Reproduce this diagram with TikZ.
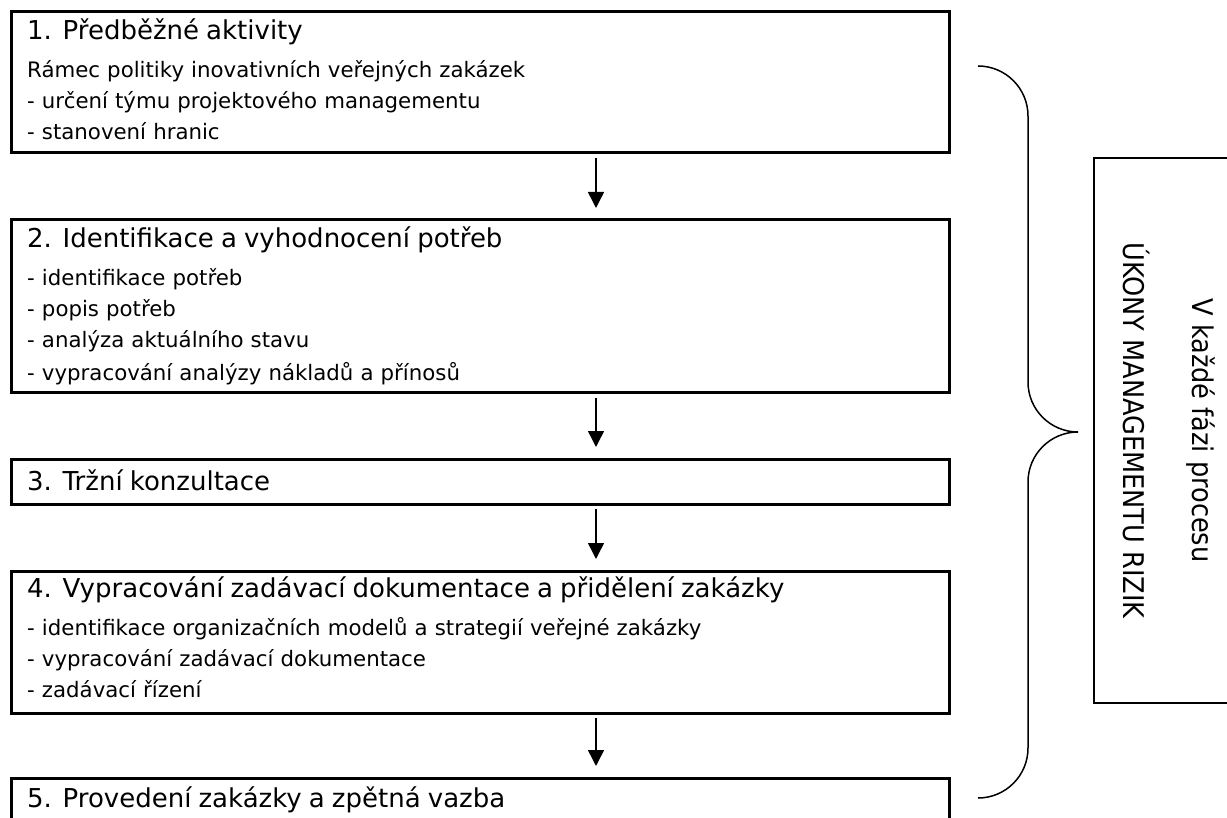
\documentclass[tikz,border=0pt]{standalone}
\usepackage{fontspec}
\setmainfont{DejaVu Sans}
\newfontfamily\sidefont{DejaVu Sans Condensed}
\usepackage{tikz}
\usetikzlibrary{arrows.meta,calc}

\newcommand{\phasetitle}[1]{{\fontsize{26}{30}\selectfont #1}}

\begin{document}
\begin{tikzpicture}[x=1pt,y=-1pt]
        % Define the styles for the phase boxes, their texts and the arrows
        \tikzstyle{phase}=[draw, line width=3pt, rectangle, anchor=north west, outer sep=0pt,
            minimum width=938pt, inner sep=0pt];
        \tikzstyle{phasetext}=[anchor=base west, inner sep=0pt, text width=900pt,
            align=left, font=\fontsize{21.3}{31}\selectfont];
        \tikzstyle{flow}=[line width=1.5pt, -{Triangle[width=16pt,length=16pt]},
            shorten <=5pt, shorten >=12pt];

        % Frame of the picture
        \clip (0,0) rectangle (1227,818);

        % Boxes of the phases
        \node[phase, minimum height=141pt] (faze1) at (11,12) {};
        \node[phase, minimum height=173pt] (faze2) at (11,220) {};
        \node[phase, minimum height=45pt] (faze3) at (11,459) {};
        \node[phase, minimum height=142pt] (faze4) at (11,571) {};
        \node[phase, minimum height=60pt] (faze5) at (11,778) {};

        % Texts of the phases
        \node[phasetext] (text1) at ($(faze1.north west)+(16,28)$)
            {\phasetitle{1. Předběžné aktivity}\\[7pt]
             Rámec politiky inovativních veřejných zakázek\\
             - určení týmu projektového managementu\\
             - stanovení hranic};
        \node[phasetext] (text2) at ($(faze2.north west)+(16,28)$)
            {\phasetitle{2. Identifikace a vyhodnocení potřeb}\\[7pt]
             - identifikace potřeb\\
             - popis potřeb\\
             - analýza aktuálního stavu\\[2pt]
             - vypracování analýzy nákladů a přínosů};
        \node[phasetext] (text3) at ($(faze3.north west)+(16,31)$)
            {\phasetitle{3. Tržní konzultace}};
        \node[phasetext] (text4) at ($(faze4.north west)+(16,26)$)
            {\phasetitle{4. Vypracování zadávací dokumentace a přidělení zakázky}\\[7pt]
             - identifikace organizačních modelů a strategií veřejné zakázky\\
             - vypracování zadávací dokumentace\\
             - zadávací řízení};
        \node[phasetext] (text5) at ($(faze5.north west)+(16,29)$)
            {\phasetitle{5. Provedení zakázky a zpětná vazba}};

        % Arrows between the phases
        \coordinate (sipka) at (596,0);
        \draw[flow] (faze1.south -| sipka) -- (faze2.north -| sipka);
        \draw[flow] (faze2.south -| sipka) -- (faze3.north -| sipka);
        \draw[flow] (faze3.south -| sipka) -- (faze4.north -| sipka);
        \draw[flow] (faze4.south -| sipka) -- (faze5.north -| sipka);

        % Curly brace over all phases
        \draw[line width=1.5pt] (978,66) arc[start angle=-90, end angle=0, radius=50]
            -- (1028,382) arc[start angle=180, end angle=90, radius=50]
            arc[start angle=270, end angle=180, radius=50]
            -- (1028,748) arc[start angle=0, end angle=90, radius=50];

        % Risk management box
        \node[draw, line width=1.5pt, rotate=-90, minimum width=545pt, minimum height=150pt,
            align=center, font=\sidefont\fontsize{28.5}{69}\selectfont] (rizika) at (1169,430.5)
            {V každé fázi procesu\\ÚKONY MANAGEMENTU RIZIK};

    \end{tikzpicture}
\end{document}
